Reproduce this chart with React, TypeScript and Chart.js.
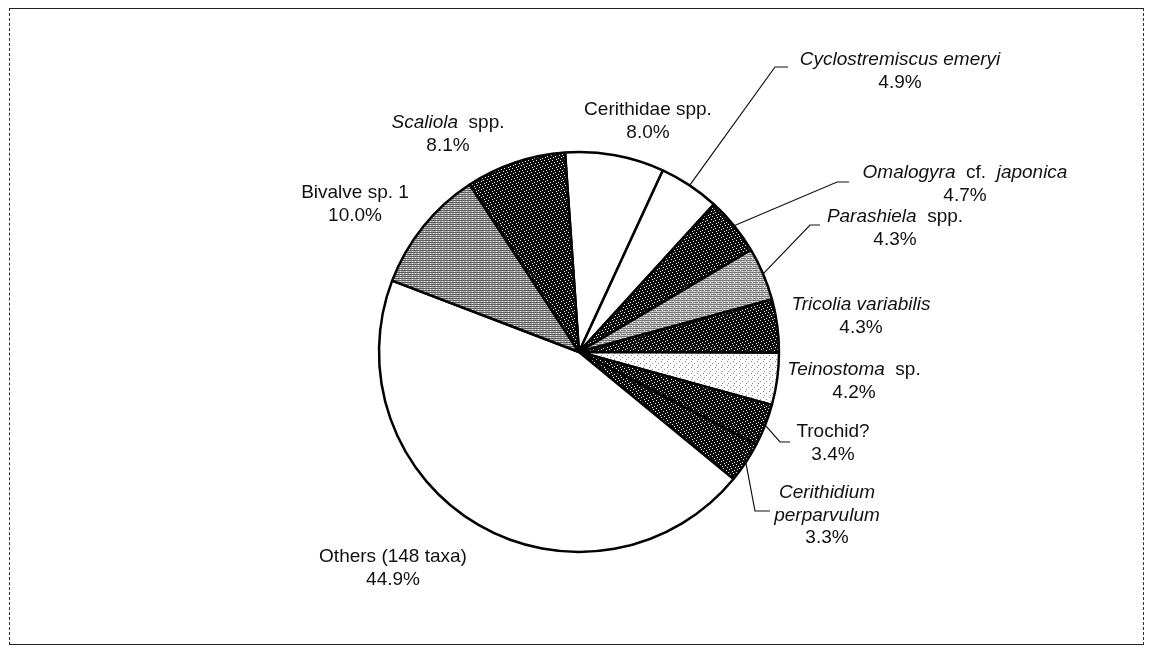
import React, { useEffect, useRef } from 'react';
import { Chart, registerables } from 'chart.js';

Chart.register(...registerables);

// ---- data ----
const categories = [
  'Cerithidae spp.',
  'Cyclostremiscus emeryi',
  'Omalogyra cf. japonica',
  'Parashiela spp.',
  'Tricolia variabilis',
  'Teinostoma sp.',
  'Trochid?',
  'Cerithidium perparvulum',
  'Others (148 taxa)',
  'Bivalve sp. 1',
  'Scaliola spp.',
];
const percentages = [8.0, 4.9, 4.7, 4.3, 4.3, 4.2, 3.4, 3.3, 44.9, 10.0, 8.1];
const italicWords = [
  'Cyclostremiscus', 'emeryi', 'Omalogyra', 'japonica', 'Parashiela', 'Tricolia',
  'variabilis', 'Teinostoma', 'Cerithidium', 'perparvulum', 'Scaliola',
];

// ---- annotation layout (label centres, leader elbows) ----
const labelCenters: [number, number][] = [
  [648, 110], [900, 60], [965, 173], [895, 217], [861, 305], [854, 370],
  [833, 432], [827, 493], [393, 557], [355, 193], [448, 123],
];
const wrapName = [false, false, false, false, false, false, false, true, false, false, false];
const leaderElbows: ([number, number][] | null)[] = [
  null,
  [[775, 67], [788, 67]],
  [[837, 182], [849, 182]],
  [[810, 225], [820, 225]],
  null,
  null,
  [[780, 442], [790, 442]],
  [[755, 511], [770, 511]],
  null,
  null,
  null,
];
const fillKinds = ['white', 'white', 'dark', 'light', 'dark', 'dots', 'dark', 'dark', 'white', 'hatch', 'dark'];
const LINE_H = 22.5;
const FONT = '19px "Liberation Sans", Arial, sans-serif';

function makePattern(rows: string[], palette: Record<string, string>) {
  const c = document.createElement('canvas');
  c.width = rows[0].length;
  c.height = rows.length;
  const g = c.getContext('2d')!;
  rows.forEach((r, y) =>
    r.split('').forEach((ch, x) => {
      g.fillStyle = palette[ch];
      g.fillRect(x, y, 1, 1);
    })
  );
  return g.createPattern(c, 'repeat')!;
}

function buildFills() {
  const dark = makePattern(
    ['10000000', '00000100', '00100000', '00000001', '00010000', '01000000', '00000010', '00001000'],
    { '0': '#0e0e0e', '1': '#e8e8e8' }
  );
  const hatch = makePattern(
    ['gggggg', 'lwllwl', 'ggdggg', 'llllwl'],
    { g: '#5e5e5e', l: '#b0b0b0', w: '#e8e8e8', d: '#4a4a4a' }
  );
  const light = makePattern(
    ['gggggg', 'lwllwl', 'ggwggg', 'llllwl'],
    { g: '#777777', l: '#c0c0c0', w: '#f0f0f0' }
  );
  const dots = makePattern(
    ['wwwwww', 'wgwwww', 'wwwwww', 'wwwwgw', 'wwwwww', 'wwgwww'],
    { w: '#ffffff', g: '#8a8a8a' }
  );
  const map: Record<string, any> = { white: '#ffffff', dark, hatch, light, dots };
  return fillKinds.map((k) => map[k]);
}

function drawWords(ctx: CanvasRenderingContext2D, words: string[], cx: number, cy: number) {
  const styles = words.map((w) => italicWords.includes(w));
  const widths = words.map((w, i) => {
    ctx.font = (styles[i] ? 'italic ' : '') + FONT;
    return ctx.measureText(w).width;
  });
  ctx.font = FONT;
  const sp = ctx.measureText(' ').width;
  const gaps = words.map((_, i) => (i === 0 ? 0 : styles[i] !== styles[i - 1] ? sp * 2 : sp));
  const total = widths.reduce((a, b) => a + b, 0) + gaps.reduce((a, b) => a + b, 0);
  let x = cx - total / 2;
  words.forEach((w, i) => {
    x += gaps[i];
    ctx.font = (styles[i] ? 'italic ' : '') + FONT;
    ctx.fillText(w, x, cy);
    x += widths[i];
  });
}

const labelPlugin = {
  id: 'pieLabels',
  afterDatasetsDraw(chart: any) {
    const ctx: CanvasRenderingContext2D = chart.ctx;
    const meta = chart.getDatasetMeta(0);
    ctx.save();
    ctx.fillStyle = '#111';
    ctx.strokeStyle = '#111';
    ctx.lineWidth = 1.2;
    ctx.textBaseline = 'middle';
    ctx.textAlign = 'left';
    meta.data.forEach((arc: any, i: number) => {
      const { x, y, startAngle, endAngle, outerRadius } = arc.getProps(
        ['x', 'y', 'startAngle', 'endAngle', 'outerRadius'],
        true
      );
      const mid = (startAngle + endAngle) / 2;
      const leader = leaderElbows[i];
      if (leader) {
        ctx.beginPath();
        ctx.moveTo(x + Math.cos(mid) * outerRadius, y + Math.sin(mid) * outerRadius);
        leader.forEach(([px, py]) => ctx.lineTo(px, py));
        ctx.stroke();
      }
      const [cx, cy] = labelCenters[i];
      const words = categories[i].split(' ');
      const lines: string[][] = wrapName[i] ? words.map((w) => [w]) : [words];
      lines.push([percentages[i].toFixed(1) + '%']);
      lines.forEach((ws, li) => drawWords(ctx, ws, cx, cy + li * LINE_H));
    });
    ctx.restore();
  },
};

export default function App() {
  const ref = useRef<HTMLCanvasElement | null>(null);
  useEffect(() => {
    if (!ref.current) return;
    const chart = new Chart(ref.current, {
      type: 'pie',
      data: {
        labels: categories,
        datasets: [
          {
            data: percentages,
            backgroundColor: buildFills(),
            borderColor: '#000000',
            borderWidth: 2.5,
            radius: 200,
            hoverOffset: 0,
          } as any,
        ],
      },
      options: {
        responsive: false,
        animation: false,
        devicePixelRatio: 1,
        rotation: -4,
        layout: { padding: { left: 9, right: 0, top: 55, bottom: 0 } },
        plugins: {
          legend: { display: false },
          tooltip: { enabled: false },
        },
      } as any,
      plugins: [labelPlugin],
    });
    return () => chart.destroy();
  }, []);

  return (
    <div style={{ position: 'absolute', left: 0, top: 0, width: 1149, height: 649, background: '#fff', overflow: 'hidden' }}>
      <canvas ref={ref} width={1149} height={649} style={{ position: 'absolute', left: 0, top: 0 }} />
      <div
        style={{
          position: 'absolute',
          left: 9,
          top: 8,
          width: 1135,
          height: 637,
          borderTop: '1.5px solid #222',
          borderBottom: '1.5px solid #222',
          borderLeft: '1.5px dashed #333',
          borderRight: '1.5px dashed #333',
          boxSizing: 'border-box',
          pointerEvents: 'none',
        }}
      />
    </div>
  );
}
